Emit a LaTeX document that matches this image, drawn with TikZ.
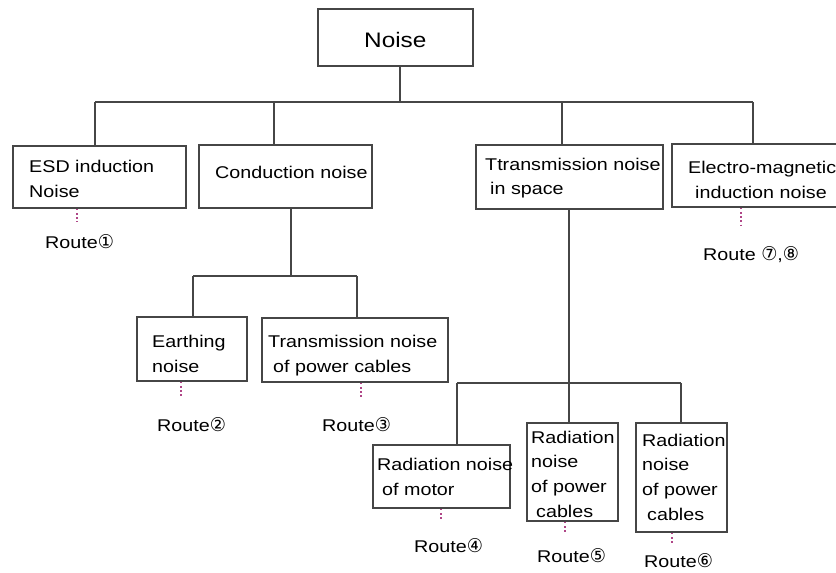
\documentclass[tikz,border=0pt]{standalone}
\usepackage{fontspec}
\setmainfont{Liberation Sans}[FakeStretch=1.16]
\newfontfamily\circfontbase{DejaVu Sans}[FakeStretch=0.95]
\newcommand\circfont{\circfontbase\fontsize{19}{19}\selectfont}
\definecolor{linec}{RGB}{70,70,70}
\definecolor{dotcol}{RGB}{175,70,135}
\begin{document}
\begin{tikzpicture}[x=1pt,y=-1pt,
  box/.style={draw=linec, line width=1.6pt, fill=none, inner sep=0pt},
  conn/.style={draw=linec, line width=1.6pt},
  dotc/.style={draw=dotcol, line width=1.6pt, dash pattern=on 1.6pt off 2.6pt},
  txt/.style={inner sep=0pt, anchor=base west, font=\fontsize{17}{20}\selectfont},
  bigtxt/.style={inner sep=0pt, anchor=base west, font=\fontsize{21}{24}\selectfont}]
\clip (0,0) rectangle (836,573);
\fill[white] (0,0) rectangle (836,573);
% boxes
\newcommand\mkbox[5]{\node[box, minimum width={#4-#2}, minimum height={#5-#3}] (#1) at ({(#2+#4)/2},{(#3+#5)/2}) {};}
\mkbox{noise}{318}{9}{473}{66}
\mkbox{esd}{13}{146}{186}{208}
\mkbox{cond}{199}{145}{372}{208}
\mkbox{trans}{476}{145}{663}{209}
\mkbox{elec}{672}{144}{850}{207}
\mkbox{earth}{137}{317}{247}{381}
\mkbox{tpc}{262}{318}{448}{382}
\mkbox{motor}{373}{445}{510}{508}
\mkbox{rfive}{527}{423}{618}{521}
\mkbox{rsix}{636}{423}{727}{532}
% texts
\node[bigtxt] (tnoise) at (364,47) {Noise};
\node[txt] (tesd1) at (29,172) {ESD induction};
\node[txt] (tesd2) at (29,197) {Noise};
\node[txt] (tcond) at (215,178) {Conduction noise};
\node[txt] (ttr1) at (485,170) {Ttransmission noise};
\node[txt] (ttr2) at (490,194) {in space};
\node[txt] (tel1) at (688,173) {Electro-magnetic};
\node[txt] (tel2) at (695,198) {induction noise};
\node[txt] (tea1) at (152,347) {Earthing};
\node[txt] (tea2) at (152,372) {noise};
\node[txt] (ttp1) at (268,347) {Transmission noise};
\node[txt] (ttp2) at (273,372) {of power cables};
\node[txt] (tmo1) at (377,470) {Radiation noise};
\node[txt] (tmo2) at (382,495) {of motor};
\node[txt] (tr51) at (531,443) {Radiation};
\node[txt] (tr52) at (531,467) {noise};
\node[txt] (tr53) at (531,492) {of power};
\node[txt] (tr54) at (536,517) {cables};
\node[txt] (tr61) at (642,446) {Radiation};
\node[txt] (tr62) at (642,470) {noise};
\node[txt] (tr63) at (642,495) {of power};
\node[txt] (tr64) at (647,520) {cables};
% routes
\node[txt] (ro1) at (45,248) {Route{\circfont ①}};
\node[txt] (ro2) at (157,431) {Route{\circfont ②}};
\node[txt] (ro3) at (322,431) {Route{\circfont ③}};
\node[txt] (ro4) at (414,552) {Route{\circfont ④}};
\node[txt] (ro5) at (537,562) {Route{\circfont ⑤}};
\node[txt] (ro6) at (644,567) {Route{\circfont ⑥}};
\node[txt] (ro78) at (703,260) {Route {\circfont ⑦},{\circfont ⑧}};
% main bus
\coordinate (bs) at (400,102);
\coordinate (b1) at (95,102);
\coordinate (b2) at (274,102);
\coordinate (b3) at (562,102);
\coordinate (b4) at (753,102);
\draw[conn] (noise.south -| bs) -- (bs);
\draw[conn] (b1) -- (b4);
\draw[conn] (b1) -- (esd.north -| b1);
\draw[conn] (b2) -- (cond.north -| b2);
\draw[conn] (b3) -- (trans.north -| b3);
\draw[conn] (b4) -- (elec.north -| b4);
% conduction subtree
\coordinate (cs) at (291,276);
\coordinate (c1) at (193,276);
\coordinate (c2) at (357,276);
\draw[conn] (cond.south -| cs) -- (cs);
\draw[conn] (c1) -- (c2);
\draw[conn] (c1) -- (earth.north -| c1);
\draw[conn] (c2) -- (tpc.north -| c2);
% transmission subtree
\coordinate (ts) at (569,383);
\coordinate (t1) at (457,383);
\coordinate (t3) at (681,383);
\draw[conn] (trans.south -| ts) -- (ts);
\draw[conn] (t1) -- (t3);
\draw[conn] (t1) -- (motor.north -| t1);
\draw[conn] (ts) -- (rfive.north -| ts);
\draw[conn] (t3) -- (rsix.north -| t3);
% dotted leaders
\coordinate (d1) at (77,222);
\coordinate (d2) at (181,397);
\coordinate (d3) at (361,397);
\coordinate (d4) at (441,520);
\coordinate (d5) at (565,534);
\coordinate (d6) at (672,545);
\coordinate (d7) at (741,225);
\draw[dotc] (esd.south -| d1) -- (d1);
\draw[dotc] (earth.south -| d2) -- (d2);
\draw[dotc] (tpc.south -| d3) -- (d3);
\draw[dotc] (motor.south -| d4) -- (d4);
\draw[dotc] (rfive.south -| d5) -- (d5);
\draw[dotc] (rsix.south -| d6) -- (d6);
\draw[dotc] (elec.south -| d7) -- (d7);
\end{tikzpicture}
\end{document}
